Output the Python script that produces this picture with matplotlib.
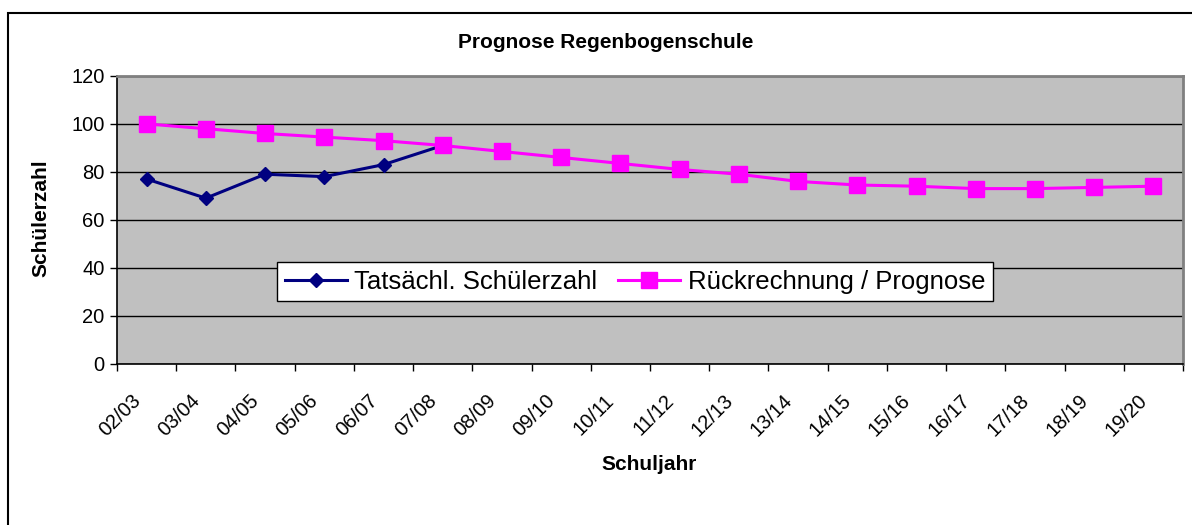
import numpy as np
import matplotlib
matplotlib.use("Agg")
import matplotlib.pyplot as plt
import matplotlib.transforms as mtransforms
from matplotlib.patches import Rectangle

plt.rcParams['font.family'] = ['Liberation Sans', 'DejaVu Sans']

# Schuljahre (categories)
years = ['02/03', '03/04', '04/05', '05/06', '06/07', '07/08', '08/09', '09/10',
         '10/11', '11/12', '12/13', '13/14', '14/15', '15/16', '16/17', '17/18',
         '18/19', '19/20']

# actual pupil numbers (only the first six years)
actual = [77, 69, 79, 78, 83, 91]

# back calculation / forecast
forecast = [100, 98, 96, 94.5, 93, 91, 88.5, 86, 83.5, 81, 79, 76, 74.5, 74,
            73, 73, 73.5, 74]

W, H = 1192, 525
fig = plt.figure(figsize=(W / 100, H / 100), dpi=100)
fig.patch.set_facecolor('white')

# outer chart border
fig.patches.append(Rectangle((8 / W, -0.1), 1.2, (H - 13) / H + 0.1,
                             transform=fig.transFigure, fill=False,
                             edgecolor='black', linewidth=1.5, clip_on=False))

left, right, top, bottom = 117, 1183, 76, 363.5
ax = fig.add_axes([left / W, (H - bottom) / H, (right - left) / W, (bottom - top) / H])
ax.set_facecolor('#C0C0C0')

x = np.arange(len(years)) + 0.5
ax.plot(x[:len(actual)], actual, color='#000080', lw=2.2, marker='D', ms=7.4,
        label='Tatsächl. Schülerzahl', zorder=3)
ax.plot(x, forecast, color='#FF00FF', lw=2.2, marker='s', ms=11,
        label='Rückrechnung / Prognose', zorder=3)

ax.set_xlim(0, len(years))
ax.set_ylim(0, 120)
ax.set_yticks(np.arange(0, 121, 20))
ax.yaxis.grid(True, color='black', lw=1)
ax.set_axisbelow(True)

# ticks at category borders, labels at category centres
ax.set_xticks(np.arange(0, len(years) + 1))
ax.set_xticklabels([])
ax.set_xticks(x, minor=True)
ax.set_xticklabels(years, minor=True, rotation=45, ha='right', va='center',
                   rotation_mode='anchor', fontsize=14.5)
ax.tick_params(axis='x', which='minor', length=0, pad=20)
ax.tick_params(axis='x', which='major', length=5, width=1, direction='out', color='black')
ax.tick_params(axis='y', length=5, width=1, direction='out', labelsize=14.5, pad=4)

shift = mtransforms.ScaledTranslation(-9 / 100, -6 / 100, fig.dpi_scale_trans)
for lab in ax.get_xticklabels(minor=True):
    lab.set_transform(lab.get_transform() + shift)

for s in ['top', 'right']:
    ax.spines[s].set_color('#808080')
    ax.spines[s].set_linewidth(2)
for s in ['left', 'bottom']:
    ax.spines[s].set_color('black')
    ax.spines[s].set_linewidth(1.2)

fig.text(606 / W, 1 - 42 / H, 'Prognose Regenbogenschule', ha='center', va='center',
         fontsize=15, fontweight='bold')
fig.text(41 / W, 1 - 218 / H, 'Schülerzahl', ha='center', va='center', rotation=90,
         fontsize=15, fontweight='bold')
fig.text(649 / W, 1 - 465 / H, 'Schuljahr', ha='center', va='center',
         fontsize=15, fontweight='bold')

leg = ax.legend(loc='center', bbox_to_anchor=(0.486, 0.285), ncol=2, fontsize=18.5,
                frameon=True, fancybox=False, edgecolor='black', framealpha=1,
                handlelength=2.4, handletextpad=0.3, columnspacing=0.8,
                borderpad=0.3)
leg.get_frame().set_linewidth(1)

fig.savefig('out.png', dpi=100)
